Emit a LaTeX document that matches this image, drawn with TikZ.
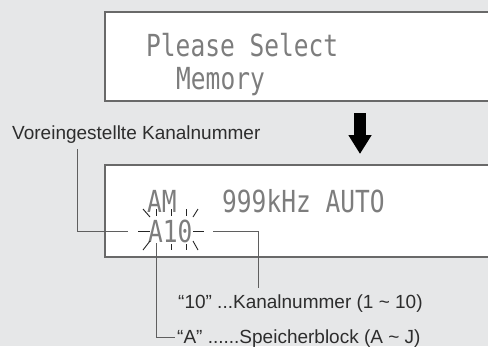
\documentclass[tikz,border=0pt]{standalone}
\usepackage{fontspec}
\usepackage{graphicx}
\usetikzlibrary{arrows.meta}
\newfontfamily\labelfont{Liberation Sans}
\newfontfamily\lcdfont{DejaVu Sans Mono}
\definecolor{bggray}{RGB}{230,231,232}
\definecolor{framegray}{RGB}{105,105,105}
\definecolor{leadgray}{RGB}{95,95,95}
\definecolor{lcdgray}{RGB}{125,125,125}
\definecolor{txtgray}{RGB}{45,45,45}
\tikzset{
  % display window
  lcdbox/.style={draw=framegray,fill=white,line width=1.2pt},
  % dot matrix characters
  lcd/.style={anchor=base west,inner sep=0pt,text depth=0pt,text=lcdgray,font=\lcdfont\fontsize{25.3}{25.3}\selectfont},
  % flashing rays round the preset number
  ray/.style={draw=black!85,line width=0.9pt},
  % leader lines
  lead/.style={draw=leadgray,line width=1pt},
  % callout texts
  lbl/.style={anchor=base west,inner sep=0pt,text=txtgray,font=\labelfont\fontsize{19}{19}\selectfont}
}
\begin{document}
\begin{tikzpicture}[x=1pt,y=-1pt]
  \fill[bggray] (0,0) rectangle (488,346);
  \useasboundingbox (0,0) rectangle (488,346);
  %%%%%%%%%%%%%%%%%%%%%%%%%%%%%%%%%%%%%%%
  \draw[lcdbox] (105,12) rectangle (497,101);
  \node[lcd] (please) at (146,56) {\scalebox{0.97}[1.2]{Please Select}};
  \node[lcd] (memory) at (176,89) {\scalebox{0.97}[1.2]{Memory}};
  %%%%%%%%%%%%%%%%%%%%%%%%%%%%%%%%%%%%%%%
  \coordinate (arrtop) at (360,113);
  \coordinate (arrtip) at (360,154);
  \draw[line width=12pt,-{Triangle[width=22pt,length=19pt]}] (arrtop) -- (arrtip);
  %%%%%%%%%%%%%%%%%%%%%%%%%%%%%%%%%%%%%%%
  \draw[lcdbox] (105,165) rectangle (497,257);
  \node[lcd] (band) at (147,212) {\scalebox{0.97}[1.2]{AM}};
  \node[lcd] (freq) at (222,212) {\scalebox{0.97}[1.2]{999kHz AUTO}};
  \node[lcd] (preset) at (148,242) {\scalebox{0.97}[1.2]{A10}};
  %%%%%%%%%%%%%%%%%%%%%%%%%%%%%%%%%%%%%%%
  \draw[ray] (138,231) -- (150,231);
  \draw[ray] (193,231) -- (204,231);
  \draw[ray] (143,209) -- (150,217);
  \draw[ray] (198,209) -- (193,217);
  \draw[ray] (143,250) -- (150,241);
  \draw[ray] (198,250) -- (193,241);
  \foreach \x in {156,171,186}
    \draw[ray] (\x,209) -- (\x,216);
  \foreach \x in {171,186}
    \draw[ray] (\x,244) -- (\x,250);
  %%%%%%%%%%%%%%%%%%%%%%%%%%%%%%%%%%%%%%%
  \node[lbl] (preslbl) at (12,139) {Voreingestellte Kanalnummer};
  \node[lbl] (chlbl) at (178,308) {“10” ...Kanalnummer (1 \textasciitilde\ 10)};
  \node[lbl] (blklbl) at (177,343) {“A” ......Speicherblock (A \textasciitilde\ J)};
  \coordinate (vtop) at (77,149);
  \coordinate (vend) at (128,231);
  \draw[lead] (vtop) |- (vend);
  \coordinate (chstart) at (213,231);
  \coordinate (chend) at (258,288);
  \draw[lead] (chstart) -| (chend);
  \coordinate (blkstart) at (156,243);
  \coordinate (blkend) at (175,337);
  \draw[lead] (blkstart) |- (blkend);
\end{tikzpicture}
\end{document}
